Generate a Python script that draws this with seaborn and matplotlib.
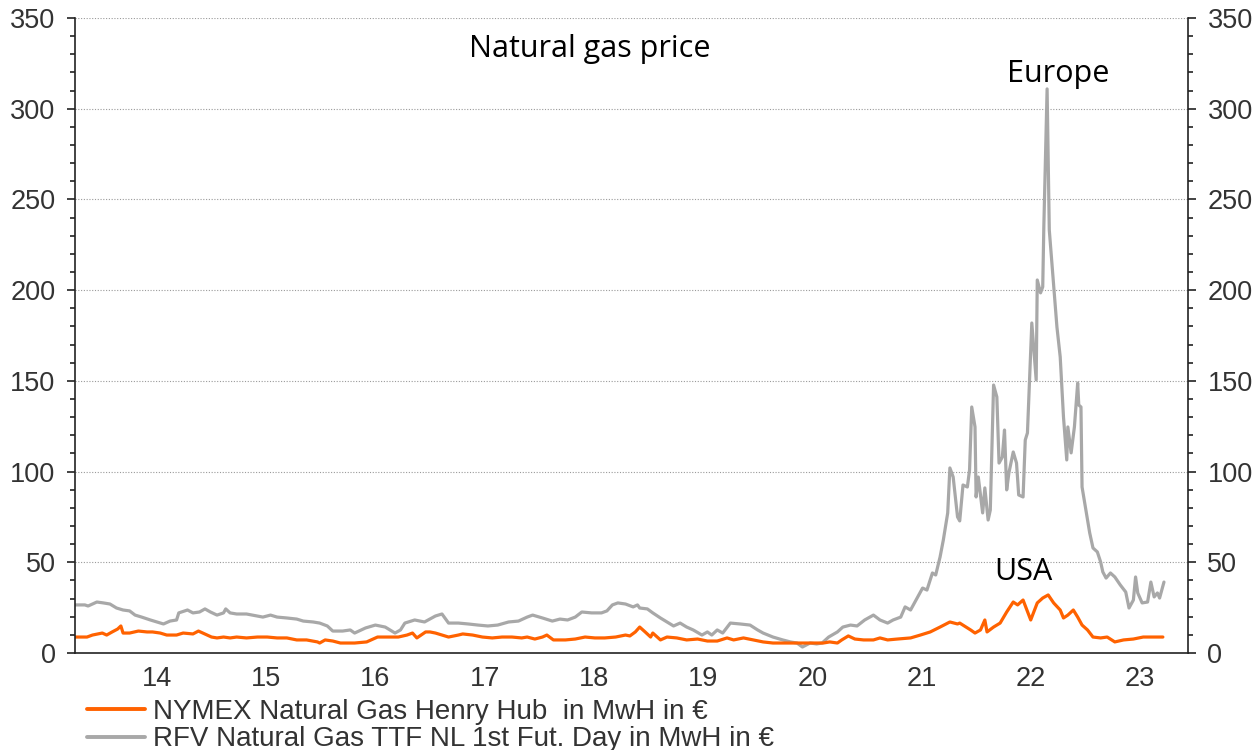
import numpy as np
import pandas as pd
import matplotlib
matplotlib.use("Agg")
import matplotlib.pyplot as plt
import seaborn as sns

# TTF (Europe), EUR per MWh
ttf_years = [
    2013.75, 2013.84, 2013.87, 2013.95, 2014.01, 2014.07, 2014.13, 2014.19, 2014.25, 2014.30,
    2014.36, 2014.44, 2014.50, 2014.56, 2014.62, 2014.68, 2014.70, 2014.78, 2014.83, 2014.89,
    2014.94, 2014.99, 2015.05, 2015.11, 2015.13, 2015.17, 2015.23, 2015.32, 2015.42, 2015.47,
    2015.54, 2015.60, 2015.69, 2015.78, 2015.84, 2015.93, 2015.99, 2016.06, 2016.11, 2016.20,
    2016.27, 2016.31, 2016.41, 2016.50, 2016.59, 2016.68, 2016.73, 2016.77, 2016.86, 2016.95,
    2017.05, 2017.11, 2017.17, 2017.26, 2017.35, 2017.44, 2017.53, 2017.62, 2017.72, 2017.81,
    2017.89, 2017.94, 2018.03, 2018.12, 2018.19, 2018.26, 2018.33, 2018.39, 2018.48, 2018.57,
    2018.62, 2018.67, 2018.72, 2018.79, 2018.86, 2018.90, 2018.92, 2018.99, 2019.04, 2019.11,
    2019.17, 2019.23, 2019.29, 2019.35, 2019.41, 2019.49, 2019.54, 2019.58, 2019.63, 2019.68,
    2019.75, 2019.84, 2019.93, 2020.00, 2020.05, 2020.14, 2020.23, 2020.30, 2020.36, 2020.41,
    2020.48, 2020.54, 2020.59, 2020.65, 2020.73, 2020.78, 2020.85, 2020.91, 2020.98, 2021.06,
    2021.12, 2021.19, 2021.24, 2021.31, 2021.35, 2021.40, 2021.44, 2021.51, 2021.55, 2021.60,
    2021.63, 2021.67, 2021.70, 2021.74, 2021.76, 2021.79, 2021.83, 2021.85, 2021.88, 2021.92,
    2021.94, 2021.96, 2021.99, 2022.00, 2022.02, 2022.06, 2022.08, 2022.11, 2022.13, 2022.16,
    2022.19, 2022.21, 2022.24, 2022.26, 2022.28, 2022.30, 2022.34, 2022.37, 2022.39, 2022.43,
    2022.45, 2022.47, 2022.51, 2022.55, 2022.56, 2022.59, 2022.61, 2022.62, 2022.65, 2022.67,
    2022.72, 2022.74, 2022.77, 2022.80, 2022.83, 2022.84, 2022.87, 2022.90, 2022.93, 2022.94,
    2022.96, 2022.97, 2023.00, 2023.03, 2023.04, 2023.07, 2023.11, 2023.14, 2023.16, 2023.19,
    2023.23, 2023.27, 2023.32, 2023.37, 2023.40, 2023.44, 2023.46, 2023.48, 2023.52, 2023.57,
    2023.60, 2023.63, 2023.66, 2023.68, 2023.72,
]
ttf_values = [
    26.5, 26.5, 25.9, 28.1, 27.6, 27.0, 24.8, 23.7, 23.2, 20.9,
    19.8, 18.2, 17.1, 16.0, 17.6, 18.2, 22.1, 23.7, 22.1, 22.6,
    24.3, 22.6, 20.9, 22.1, 24.3, 22.1, 21.5, 21.5, 20.4, 19.8,
    20.9, 19.8, 19.3, 18.7, 17.6, 17.1, 16.5, 14.9, 12.1, 12.1,
    12.7, 11.0, 13.8, 15.4, 14.3, 11.0, 12.7, 16.5, 18.2, 17.1,
    20.4, 21.5, 16.5, 16.5, 16.0, 15.4, 14.9, 15.4, 17.1, 17.6,
    19.8, 20.9, 19.3, 17.6, 18.7, 18.2, 19.8, 22.6, 22.1, 22.1,
    23.2, 26.5, 27.6, 27.0, 25.4, 26.5, 24.8, 24.3, 22.1, 19.3,
    17.1, 14.9, 16.5, 14.3, 12.7, 9.9, 11.6, 9.9, 12.7, 11.0,
    16.5, 16.0, 15.4, 12.7, 11.0, 8.8, 7.2, 6.1, 5.5, 3.3,
    5.5, 5.0, 5.5, 8.8, 11.6, 14.3, 15.4, 14.9, 18.2, 20.9,
    18.2, 16.5, 18.2, 19.8, 25.4, 23.7, 28.1, 35.8, 34.7, 44.1,
    43.0, 52.9, 62.3, 77.2, 102.0, 97.0, 75.0, 72.8, 92.6, 91.5,
    100.9, 135.6, 124.6, 86.0, 97.0, 77.2, 91.0, 73.3, 78.8, 147.7,
    141.1, 104.7, 108.0, 122.9, 89.9, 99.2, 110.8, 104.7, 87.1, 86.0,
    117.4, 121.3, 181.9, 150.5, 205.6, 198.5, 201.8, 234.8, 310.9, 233.2,
    194.6, 179.7, 163.2, 130.1, 106.4, 124.6, 110.3, 124.6, 148.8, 136.7,
    135.6, 91.5, 80.5, 69.5, 66.2, 57.9, 55.7, 50.2, 44.7, 41.3,
    44.1, 41.9, 37.5, 33.6, 24.8, 29.2, 41.9, 33.1, 27.6, 28.1,
    39.1, 30.9, 33.1, 30.3, 39.1,
]

# Henry Hub (USA), EUR per MWh
hh_years = [
    2013.75, 2013.86, 2013.91, 2014.00, 2014.04, 2014.09, 2014.14, 2014.17, 2014.19, 2014.25,
    2014.33, 2014.41, 2014.46, 2014.53, 2014.59, 2014.68, 2014.74, 2014.83, 2014.88, 2014.92,
    2015.00, 2015.05, 2015.11, 2015.17, 2015.23, 2015.32, 2015.42, 2015.51, 2015.60, 2015.69,
    2015.78, 2015.87, 2015.97, 2015.99, 2016.04, 2016.11, 2016.18, 2016.25, 2016.31, 2016.42,
    2016.52, 2016.62, 2016.71, 2016.79, 2016.84, 2016.88, 2016.96, 2017.00, 2017.05, 2017.11,
    2017.17, 2017.26, 2017.30, 2017.39, 2017.48, 2017.57, 2017.66, 2017.75, 2017.84, 2017.89,
    2017.96, 2018.03, 2018.07, 2018.13, 2018.24, 2018.33, 2018.42, 2018.51, 2018.60, 2018.70,
    2018.79, 2018.83, 2018.88, 2018.92, 2018.97, 2019.02, 2019.04, 2019.11, 2019.17, 2019.26,
    2019.35, 2019.45, 2019.54, 2019.63, 2019.72, 2019.78, 2019.87, 2019.96, 2020.05, 2020.14,
    2020.23, 2020.33, 2020.42, 2020.51, 2020.60, 2020.66, 2020.73, 2020.77, 2020.83, 2020.89,
    2020.97, 2021.06, 2021.12, 2021.19, 2021.28, 2021.40, 2021.49, 2021.58, 2021.67, 2021.76,
    2021.83, 2021.85, 2021.95, 2021.99, 2022.04, 2022.08, 2022.10, 2022.16, 2022.22, 2022.28,
    2022.34, 2022.38, 2022.43, 2022.50, 2022.56, 2022.61, 2022.66, 2022.71, 2022.77, 2022.80,
    2022.84, 2022.89, 2022.93, 2022.97, 2023.02, 2023.07, 2023.14, 2023.20, 2023.27, 2023.35,
    2023.44, 2023.53, 2023.62, 2023.71,
]
hh_values = [
    8.8, 8.8, 9.9, 11.0, 9.9, 11.6, 13.2, 14.9, 11.0, 11.0,
    12.1, 11.6, 11.6, 11.0, 9.9, 9.9, 11.0, 10.5, 12.1, 11.0,
    8.8, 8.3, 8.8, 8.3, 8.8, 8.3, 8.8, 8.8, 8.3, 8.3,
    7.2, 7.2, 6.1, 5.5, 7.2, 6.6, 5.5, 5.5, 5.5, 6.1,
    8.8, 8.8, 8.8, 9.9, 11.0, 8.3, 11.6, 11.6, 11.0, 9.9,
    8.8, 9.9, 10.5, 9.9, 8.8, 8.3, 8.8, 8.8, 8.3, 8.8,
    7.7, 8.8, 9.9, 7.2, 7.2, 7.7, 8.8, 8.3, 8.3, 8.8,
    9.9, 9.4, 11.6, 14.3, 11.6, 8.8, 11.0, 7.2, 8.8, 8.3,
    7.2, 7.7, 6.6, 6.6, 8.3, 7.2, 8.3, 7.2, 6.1, 5.5,
    5.5, 5.5, 5.5, 5.5, 5.5, 6.1, 5.5, 7.2, 9.4, 7.7,
    7.2, 7.2, 8.3, 7.2, 7.7, 8.3, 9.9, 11.6, 14.3, 17.1,
    16.0, 16.5, 12.7, 11.0, 12.7, 18.2, 11.6, 14.3, 16.5, 22.6,
    28.1, 26.5, 29.2, 18.2, 27.6, 30.3, 32.0, 27.6, 23.7, 19.3,
    20.9, 23.7, 19.8, 15.4, 12.7, 8.8, 8.3, 8.8, 6.1, 7.2,
    7.7, 8.8, 8.8, 8.8,
]

year_labels = ["14", "15", "16", "17", "18", "19", "20", "21", "22", "23"]
legend_labels = [
    "NYMEX Natural Gas Henry Hub  in MwH in \u20ac",
    "RFV Natural Gas TTF NL 1st Fut. Day in MwH in \u20ac",
]

df = pd.concat([
    pd.DataFrame({"year": hh_years, "price": hh_values, "series": legend_labels[0]}),
    pd.DataFrame({"year": ttf_years, "price": ttf_values, "series": legend_labels[1]}),
])

orange = "#FF6200"
grey = "#A8A8A8"
txt = "#333333"

sns.set_style("white")
plt.rcParams["font.family"] = ["Liberation Sans", "DejaVu Sans"]

fig = plt.figure(figsize=(12.58, 7.5), dpi=100)
ax = fig.add_axes([75 / 1258, 97 / 750, 1113 / 1258, 635 / 750])

sns.lineplot(data=df, x="year", y="price", hue="series",
             palette={legend_labels[0]: orange, legend_labels[1]: grey},
             hue_order=[legend_labels[1], legend_labels[0]],
             linewidth=2.3, legend=False, ax=ax, estimator=None, sort=False)

ax.set_xlim(2013.75, 2023.94)
ax.set_ylim(0, 350)
ax.set_xlabel("")
ax.set_ylabel("")

# y axis on both sides
ax.set_yticks(np.arange(0, 351, 50))
ax.set_yticks(np.arange(0, 351, 10), minor=True)
ax.tick_params(axis="y", which="both", left=True, right=True, labelleft=True,
               labelright=True, direction="out", colors="#222222",
               labelcolor=txt, labelsize=19.5, pad=8)
ax.tick_params(axis="y", which="major", length=6, width=1.2)
ax.tick_params(axis="y", which="minor", length=3.5, width=1.2)

# x axis: long ticks at year starts, short at quarters, labels mid-year
ax.set_xticks(np.arange(2014, 2024))
ax.set_xticklabels([""] * 10)
quarters = [y + q for y in range(2013, 2024) for q in (0.25, 0.5, 0.75)
            if 2013.7 <= y + q <= 2023.94]
qlabels = []
for q in quarters:
    if abs(q - round(q - 0.5) - 0.5) < 1e-6:
        yr = int(q - 0.5)
        qlabels.append(year_labels[yr - 2014] if 2014 <= yr <= 2023 else "")
    else:
        qlabels.append("")
ax.set_xticks(quarters, minor=True)
ax.set_xticklabels(qlabels, minor=True)
ax.tick_params(axis="x", which="major", direction="out", length=7, width=1.2, colors="#222222")
ax.tick_params(axis="x", which="minor", direction="out", length=3.5, width=1.2,
               colors="#222222", labelcolor=txt, labelsize=19.5, pad=6)

ax.grid(False)
for v in range(50, 351, 50):
    ax.axhline(v, color="#9a9a9a", linestyle=(0, (1, 1.5)), linewidth=0.8, zorder=0)

for side in ["left", "right", "bottom"]:
    ax.spines[side].set_visible(True)
    ax.spines[side].set_color("#222222")
    ax.spines[side].set_linewidth(1.2)
ax.spines["top"].set_visible(False)

ann = dict(family=["Open Sans", "DejaVu Sans"], fontsize=22, color="black",
           ha="center", va="center")
ax.text(2018.46, 333, "Natural gas price", **ann)
ax.text(2022.75, 319, "Europe", **ann)
ax.text(2022.43, 44.5, "USA", **ann)

handles = [plt.Line2D([], [], color=orange, lw=2.8),
           plt.Line2D([], [], color=grey, lw=2.8)]
fig.legend(handles, legend_labels, loc="upper left", bbox_to_anchor=(0.069, 0.068),
           frameon=False, fontsize=20, handlelength=2.1, handletextpad=0.28,
           labelspacing=0.05, borderpad=0, borderaxespad=0, labelcolor=txt)

fig.savefig("out.png", dpi=100)
